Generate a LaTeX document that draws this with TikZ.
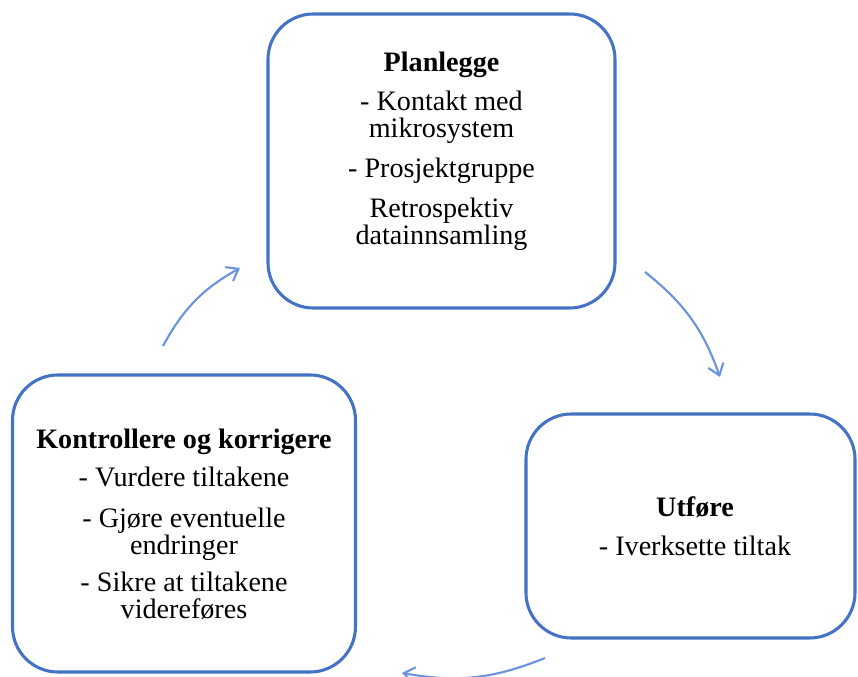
\documentclass[tikz,border=0pt]{standalone}
\usepackage{fontspec}
\setmainfont{Liberation Serif}
\usetikzlibrary{arrows.meta,positioning}
\definecolor{boxblue}{HTML}{4472C4}
\definecolor{arrblue}{HTML}{6A94DC}
\tikzset{
	cyclebox/.style={rectangle, draw=boxblue, line width=2.3pt, rounded corners=34pt, inner sep=0pt},
	boxtext/.style={align=center, font=\fontsize{21.1}{20.25}\selectfont, inner sep=0pt},
	cyclearr/.style={-{Straight Barb[length=8pt,width=12pt]}, arrblue, line width=1.6pt, bend left=16}
}
\begin{document}
\begin{tikzpicture}[x=0.75pt, y=-0.75pt]
	\useasboundingbox (0,0) rectangle (858,677);
	% the three boxes
	\node[cyclebox, minimum width=347*0.75pt, minimum height=294*0.75pt] (plan) at (441.5,161) {};
	\node[cyclebox, minimum width=343*0.75pt, minimum height=297*0.75pt] (kontroll) at (184,523.5) {};
	\node[cyclebox, minimum width=329*0.75pt, minimum height=224*0.75pt] (utfore) at (690.5,526) {};
	% texts
	\node[boxtext] (plantext) at (441.5,151)
		{\textbf{Planlegge}\\[9.5pt]- Kontakt med\\mikrosystem\\[9.5pt]- Prosjektgruppe\\[9.5pt]Retrospektiv\\datainnsamling};
	\node[boxtext] (kontrolltext) at (184,524)
		{\textbf{Kontrollere og korrigere}\\[8.5pt]- Vurdere tiltakene\\[10pt]- Gjøre eventuelle\\endringer\\[7.5pt]- Sikre at tiltakene\\videreføres};
	\node[boxtext] (utforetext) at (695,526)
		{\textbf{Utføre}\\[9pt]- Iverksette tiltak};
	% arrow ends
	\coordinate (a1) at (163,346);
	\coordinate (b1) at (240,268);
	\coordinate (a2) at (645,272);
	\coordinate (b2) at (720,377);
	\coordinate (a3) at (545,658);
	\coordinate (b3) at (402,673);
	\draw[cyclearr] (a1) to (b1);
	\draw[cyclearr] (a2) to (b2);
	\draw[cyclearr] (a3) to (b3);
\end{tikzpicture}
\end{document}
